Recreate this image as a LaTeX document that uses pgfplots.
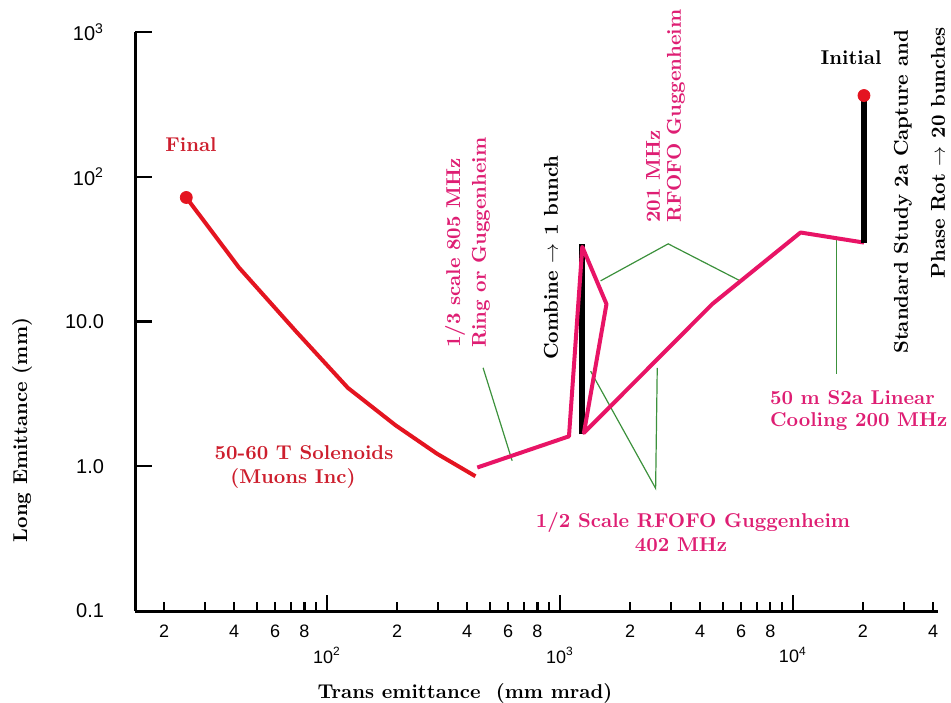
\documentclass[border=0pt]{standalone}
\usepackage{fontspec}
\setsansfont{Liberation Sans}
\usepackage{pgfplots}
\pgfplotsset{compat=1.18}
\definecolor{cred}{RGB}{228,20,32}
\definecolor{cmag}{RGB}{232,20,102}
\definecolor{tred}{RGB}{205,30,45}
\definecolor{tmag}{RGB}{222,30,115}
\definecolor{cgreen}{RGB}{60,145,60}
\begin{document}
\begin{tikzpicture}
\path[use as bounding box] (-67.5pt,-45.5pt) rectangle (408pt,305.5pt);
\begin{axis}[
  scale only axis, width=401.5pt, height=289.5pt,
  at={(0pt,0pt)}, anchor=south west,
  xmode=log, ymode=log,
  xmin=15, xmax=42000, ymin=0.1, ymax=1000,
  axis x line=bottom, axis y line=left,
  axis line style={-, line width=1.5pt},
  tick align=inside,
  tick style={black, line width=1.2pt},
  major tick length=4.5pt, minor tick length=4.5pt,
  xtick={20,40,60,80,200,400,600,800,2000,4000,6000,8000,20000,40000},
  xticklabels={2,4,6,8,2,4,6,8,2,4,6,8,2,4},
  minor xtick={30,50,70,90,300,500,700,900,3000,5000,7000,9000,30000},
  extra x ticks={100,1000,10000},
  extra x tick labels={10\textsuperscript{2},10\textsuperscript{3},10\textsuperscript{4}},
  extra x tick style={major tick length=8pt, xticklabel style={yshift=-11pt}},
  xticklabel style={font=\sffamily\fontsize{9}{10}\selectfont, yshift=-3.5pt},
  ytick=\empty,
  minor ytick={0.2,0.3,0.4,0.5,0.6,0.7,0.8,0.9,2,3,4,5,6,7,8,9,20,30,40,50,60,70,80,90,200,300,400,500,600,700,800,900},
  extra y ticks={0.1,1,10,100,1000},
  extra y tick labels={0.1,1.0,10.0,10\textsuperscript{2},10\textsuperscript{3}},
  extra y tick style={major tick length=8.5pt},
  yticklabel style={font=\sffamily\fontsize{10}{12}\selectfont, xshift=-12pt},
  clip=false,
]
% green annotation lines
\addplot[cgreen, line width=0.6pt] coordinates {(468,4.79) (624,1.09)};
\addplot[cgreen, line width=0.6pt] coordinates {(1496,19.1) (2917,34.4) (5867,19.3)};
\addplot[cgreen, line width=0.6pt] coordinates {(1355,4.54) (2576,0.704) (2618,4.79)};
\addplot[cgreen, line width=0.6pt] coordinates {(15350,37.1) (15350,4.35)};
% combine -> 1 bunch
\addplot[black, line width=3pt] coordinates {(1240,1.66) (1240,34.2)};
% final cooling (red)
\addplot[cred, line width=2pt, line join=round] coordinates {
  (24.9,71.9) (41.9,23.6) (73.4,8.6) (123,3.48) (197,1.92) (297,1.22) (434,0.853)};
\addplot[cred, only marks, mark=*, mark size=3pt] coordinates {(24.9,71.9)};
% magenta cooling path
\addplot[cmag, line width=2pt, line join=round] coordinates {
  (442,0.98) (1094,1.61) (1248,32.8) (1585,13.2) (1268,1.70) (4510,13.2) (10790,41.2) (20200,35.1)};
% capture and phase rotation
\addplot[black, line width=3pt] coordinates {(20200,35.1) (20200,364)};
\addplot[cred, only marks, mark=*, mark size=3pt] coordinates {(20200,364)};
\end{axis}
\bfseries
\node[tred] at (28pt,233pt) {Final};
\node[tred] at (84.5pt,79pt) {50-60 T Solenoids};
\node[tred] at (79pt,66.5pt) {(Muons Inc)};
\node[tmag, rotate=90, anchor=west] at (160pt,128pt) {1/3 scale 805 MHz};
\node[tmag, rotate=90, anchor=west] at (173pt,128pt) {Ring or Guggenheim};
\node[black, rotate=90, anchor=west] at (208pt,122pt) {Combine $\rightarrow$ 1 bunch};
\node[tmag, rotate=90, anchor=west] at (259pt,190.5pt) {201 MHz};
\node[tmag, rotate=90, anchor=west] at (270.5pt,190.5pt) {RFOFO Guggenheim};
\node[black, rotate=90, anchor=east] at (384pt,294pt) {Standard Study 2a Capture and};
\node[black, rotate=90, anchor=east, inner sep=0pt] at (401.5pt,292pt) {Phase Rot $\rightarrow$ 20 bunches};
\node[black] at (358pt,276.5pt) {Initial};
\node[tmag, anchor=west] at (314pt,106.5pt) {50 m S2a Linear};
\node[tmag, anchor=west] at (314pt,94.5pt) {Cooling 200 MHz};
\node[tmag] at (279pt,44.5pt) {1/2 Scale RFOFO Guggenheim};
\node[tmag] at (273pt,33pt) {402 MHz};
\node[black] at (165pt,-41pt) {Trans emittance\ \ (mm mrad)};
\node[black, rotate=90] at (-56.5pt,90.5pt) {Long Emittance (mm)};
\end{tikzpicture}
\end{document}
